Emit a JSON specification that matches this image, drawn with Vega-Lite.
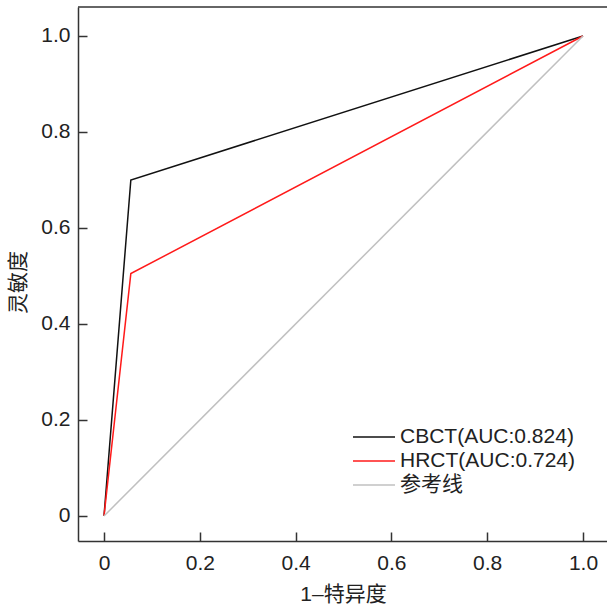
{
  "$schema": "https://vega.github.io/schema/vega-lite/v6.json",
  "width": 530,
  "height": 534,
  "autosize": {"type": "none"},
  "padding": {"left": 78, "top": 7, "right": 0, "bottom": 66},
  "background": "white",
  "config": {
    "view": {"stroke": null},
    "font": "Liberation Sans, Noto Sans CJK SC",
    "axis": {
      "grid": false,
      "domainColor": "#333333",
      "domainWidth": 1.5,
      "tickColor": "#333333",
      "tickWidth": 1.5,
      "tickSize": -9,
      "labelFont": "Liberation Sans",
      "labelFontSize": 21,
      "labelColor": "#222222",
      "titleFont": "Liberation Sans, Noto Sans CJK SC",
      "titleFontSize": 21,
      "titleFontWeight": "normal",
      "titleColor": "#222222"
    }
  },
  "data": {
    "values": [
      {"series": "CBCT(AUC:0.824)", "x": 0, "y": 0, "o": 0},
      {"series": "CBCT(AUC:0.824)", "x": 0.056, "y": 0.70, "o": 1},
      {"series": "CBCT(AUC:0.824)", "x": 1, "y": 1, "o": 2},
      {"series": "HRCT(AUC:0.724)", "x": 0, "y": 0, "o": 0},
      {"series": "HRCT(AUC:0.724)", "x": 0.056, "y": 0.505, "o": 1},
      {"series": "HRCT(AUC:0.724)", "x": 1, "y": 1, "o": 2},
      {"series": "参考线", "x": 0, "y": 0, "o": 0},
      {"series": "参考线", "x": 1, "y": 1, "o": 1}
    ]
  },
  "layer": [
    {
      "mark": {"type": "rule", "color": "#333333", "strokeWidth": 1.5},
      "data": {"values": [{"a": 1}]},
      "encoding": {
        "y": {"datum": 1.0604, "type": "quantitative", "scale": {"domain": [-0.0521, 1.0604]}},
        "x": {"datum": -0.0543, "type": "quantitative"},
        "x2": {"datum": 1.0522}
      }
    },
    {
      "mark": {"type": "line", "strokeWidth": 1.5, "clip": true},
      "encoding": {
        "x": {
          "field": "x",
          "type": "quantitative",
          "scale": {"domain": [-0.0543, 1.0522], "nice": false, "zero": false},
          "axis": {
            "title": "1–特异度",
            "values": [0, 0.2, 0.4, 0.6, 0.8, 1.0],
            "labelExpr": "datum.value == 0 ? '0' : format(datum.value, '.1f')",
            "labelPadding": 20,
            "titlePadding": 10
          }
        },
        "y": {
          "field": "y",
          "type": "quantitative",
          "scale": {"domain": [-0.0521, 1.0604], "nice": false, "zero": false},
          "axis": {
            "title": "灵敏度",
            "values": [0, 0.2, 0.4, 0.6, 0.8, 1.0],
            "labelExpr": "datum.value == 0 ? '0' : format(datum.value, '.1f')",
            "labelPadding": 17,
            "titlePadding": 12,
            "titleY": 275
          }
        },
        "order": {"field": "o"},
        "color": {
          "field": "series",
          "type": "nominal",
          "scale": {
            "domain": ["CBCT(AUC:0.824)", "HRCT(AUC:0.724)", "参考线"],
            "range": ["#111111", "#ff1a1a", "#c0c0c0"]
          },
          "legend": {
            "title": null,
            "orient": "none",
            "legendX": 274,
            "legendY": 418,
            "padding": 0,
            "symbolType": "stroke",
            "symbolSize": 1764,
            "symbolStrokeWidth": 1.5,
            "labelFont": "Liberation Sans, Noto Sans CJK SC",
            "labelFontSize": 21,
            "labelColor": "#222222",
            "labelOffset": 4,
            "labelLimit": 400,
            "clipHeight": 24,
            "rowPadding": 0
          }
        }
      }
    }
  ],
  "resolve": {"scale": {"y": "shared", "x": "shared"}}
}
